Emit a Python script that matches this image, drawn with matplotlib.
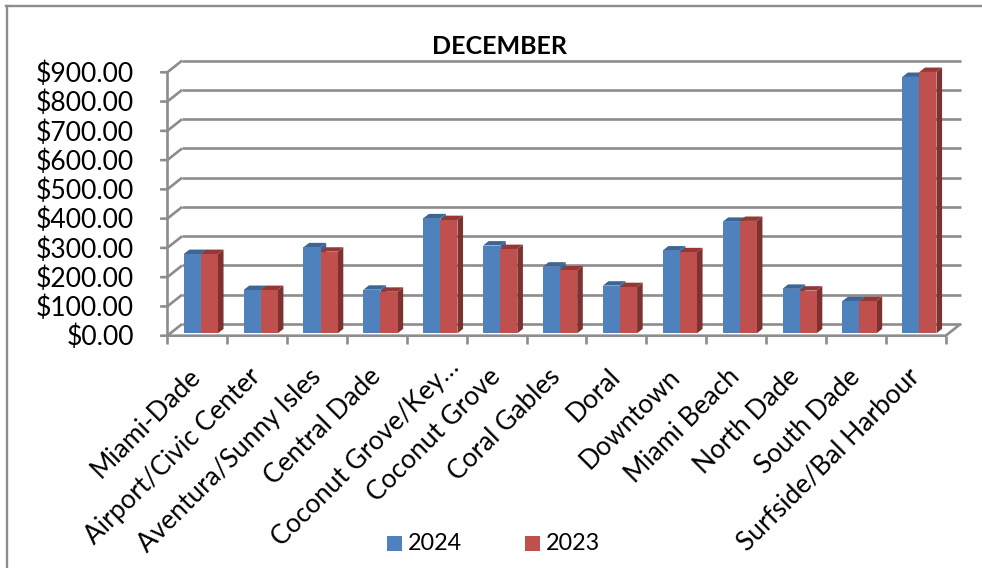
import matplotlib
matplotlib.use("Agg")
import matplotlib.pyplot as plt
from matplotlib.patches import Polygon, Rectangle
from matplotlib.lines import Line2D

plt.rcParams['font.family'] = ['Lato', 'DejaVu Sans']

categories = ["Miami-Dade", "Airport/Civic Center", "Aventura/Sunny Isles", "Central Dade",
              "Coconut Grove/Key…", "Coconut Grove", "Coral Gables", "Doral", "Downtown",
              "Miami Beach", "North Dade", "South Dade", "Surfside/Bal Harbour"]
values_2024 = [271, 148, 294, 149, 393, 300, 228, 163, 283, 381, 152, 110, 876]
values_2023 = [271, 148, 279, 142, 387, 288, 215, 158, 277, 384, 146, 110, 893]
y_ticks = list(range(0, 1000, 100))
y_labels = [f"${v}.00" for v in y_ticks]

W, H = 982, 568
fig = plt.figure(figsize=(W / 100, H / 100), dpi=100)
fx0, fx1, fy0, fy900 = 167.3, 945.7, 335.7, 72.3
ax = fig.add_axes([fx0 / W, 1 - fy0 / H, (fx1 - fx0) / W, (fy0 - fy900) / H])
ax.set_xlim(0, len(categories))
ax.set_ylim(0, 900)
ax.axis("off")

ux = (fx1 - fx0) / len(categories)   # px per category
uy = (fy0 - fy900) / 900             # px per dollar
wall_dx, wall_dy = 14.8 / ux, 11.7 / uy
base_dx, base_dy = 3.6 / ux, 2.4 / uy
bar_dx, bar_dy = 5.6 / ux, 4.4 / uy
bar_w = 17.1 / ux
gap = (ux - 2 * 17.1) / 2 / ux

grid = "#8c8c8c"
lw = 1.9
kw = dict(color=grid, lw=lw, clip_on=False, solid_capstyle="butt", zorder=1)
# walls and grid
for v in y_ticks:
    ax.plot([-0.12, 0, wall_dx], [v, v, v + wall_dy], **kw)
    ax.plot([wall_dx, len(categories) + wall_dx], [v + wall_dy] * 2, **kw)
ax.plot([0, 0], [0, 900], **kw)
ax.plot([0, len(categories), len(categories) + wall_dx], [0, 0, wall_dy], **kw)
for i in range(len(categories) + 1):
    ax.plot([i, i], [0, -8.5 / uy], **kw)


def bar3d(x, v, front, top, side):
    b = base_dy
    ax.add_patch(Polygon([(x + bar_w, b), (x + bar_w + bar_dx, b + bar_dy),
                          (x + bar_w + bar_dx, b + v + bar_dy), (x + bar_w, b + v)],
                         fc=side, ec="none", clip_on=False, zorder=3))
    ax.add_patch(Polygon([(x, b + v), (x + bar_w, b + v),
                          (x + bar_w + bar_dx, b + v + bar_dy), (x + bar_dx, b + v + bar_dy)],
                         fc=top, ec="none", clip_on=False, zorder=3))
    ax.bar(x, v, width=bar_w, bottom=b, align="edge", color=front, clip_on=False, zorder=4)


for i in range(len(categories)):
    x = i + base_dx + gap
    bar3d(x, values_2024[i], "#4f81bd", "#3b6696", "#3a6290")
    bar3d(x + bar_w, values_2023[i], "#c0504d", "#953735", "#7d3230")

for v, s in zip(y_ticks, y_labels):
    fig.text(134 / W, 1 - (fy0 - v * uy + 2) / H, s, ha="right", va="center", fontsize=19.1, color="black")
for i, s in enumerate(categories):
    shift_x, shift_y = (19, -10) if s.endswith("…") else (0, 0)
    fig.text((fx0 + (i + 0.5) * ux - 9 + shift_x) / W, 1 - (364 + shift_y) / H, s, rotation=45, ha="right",
             va="top", rotation_mode="anchor", fontsize=18.9, color="black")
fig.text(499 / W, 1 - 46 / H, "DECEMBER", ha="center", va="center", fontsize=18, fontweight="bold", color="black")

# legend
for x, c, s in [(387, "#4f81bd", "2024"), (525, "#c0504d", "2023")]:
    fig.add_artist(Rectangle((x / W, 1 - 551 / H), 15 / W, 15 / H, transform=fig.transFigure, fc=c, ec="none"))
    fig.text((x + 21) / W, 1 - 544 / H, s, ha="left", va="center", fontsize=16.8, color="black")

# outer frame
frame = "#8c8c8c"
fig.add_artist(Line2D([6.5 / W, 6.5 / W], [0, 1 - 6 / H], color=frame, lw=1.7, transform=fig.transFigure))
fig.add_artist(Line2D([6 / W, 1], [1 - 6 / H, 1 - 6 / H], color=frame, lw=1.7, transform=fig.transFigure))

fig.savefig("out.png", dpi=100)
